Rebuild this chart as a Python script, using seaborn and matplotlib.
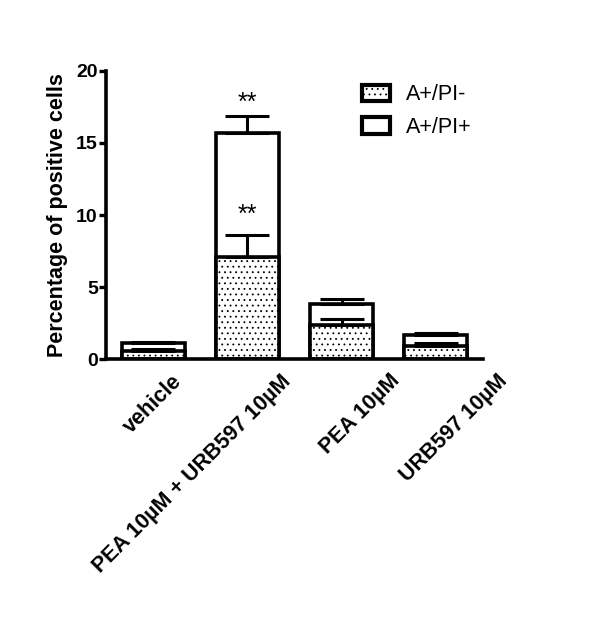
import numpy as np
import pandas as pd
import seaborn as sns
import matplotlib
matplotlib.use("Agg")
import matplotlib.pyplot as plt
import matplotlib.transforms as mtransforms
from matplotlib.patches import Patch

# ---- data ----
categories = ["vehicle", "PEA 10µM + URB597 10µM", "PEA 10µM", "URB597 10µM"]
pi_neg = [0.6, 7.1, 2.4, 0.9]          # A+/PI-  (lower segment)
pi_neg_err = [0.12, 1.5, 0.4, 0.2]
total = [1.1, 15.7, 3.8, 1.7]          # A+/PI- + A+/PI+ (top of stack)
total_err = [0.1, 1.15, 0.35, 0.15]
stars_text = ["", "**", "", ""]
series_names = ["A+/PI-", "A+/PI+"]
yticks = [0, 5, 10, 15, 20]

sns.set_style("ticks")
plt.rcParams["font.family"] = ["Liberation Sans", "DejaVu Sans"]
for k in ["text.color", "axes.labelcolor", "xtick.color", "ytick.color", "axes.edgecolor"]:
    plt.rcParams[k] = "black"
plt.rcParams["hatch.linewidth"] = 0.6
plt.rcParams["hatch.color"] = "#333333"

fig = plt.figure(figsize=(6.0, 6.26), dpi=100)
ax = fig.add_axes([0.177, 0.426, 0.628, 0.461])

df = pd.DataFrame({"cat": categories, "neg": pi_neg, "tot": total})
lw = 2.6
# total bars (A+/PI+ on top)
sns.barplot(data=df, x="cat", y="tot", ax=ax, color="white", width=0.67,
            edgecolor="black", linewidth=lw, saturation=1)
# lower bars (A+/PI-) with dotted hatch
sns.barplot(data=df, x="cat", y="neg", ax=ax, color="white", width=0.67,
            edgecolor="black", linewidth=lw, saturation=1, hatch="...")

xs = np.arange(len(categories))
ax.errorbar(xs, pi_neg, yerr=[np.zeros(len(xs)), pi_neg_err], fmt="none",
            ecolor="black", elinewidth=2.2, capsize=16, capthick=2.2, zorder=5)
ax.errorbar(xs, total, yerr=[np.zeros(len(xs)), total_err], fmt="none",
            ecolor="black", elinewidth=2.2, capsize=16, capthick=2.2, zorder=5)

for x, s in zip(xs, stars_text):
    if s:
        ax.text(x, 10.0, s, ha="center", va="center", fontsize=18)
        ax.text(x, 17.8, s, ha="center", va="center", fontsize=18)

ax.set_ylim(0, 20)
ax.set_xlim(-0.5, 3.5)
ax.set_yticks(yticks)
ax.set_yticklabels([str(t) for t in yticks], fontsize=14, fontweight="bold")
ax.set_xlabel("")
ax.set_ylabel("Percentage of positive cells", fontsize=15.5, fontweight="bold", labelpad=6)
sns.despine(ax=ax)
for sp in ["left", "bottom"]:
    ax.spines[sp].set_linewidth(2.6)
ax.tick_params(axis="y", width=2.4, length=5, pad=1)
ax.tick_params(axis="x", length=0, pad=8)

ax.set_xticks(xs)
ax.set_xticklabels(categories, rotation=45, ha="right", va="top",
                   fontsize=15.5, fontweight="bold")
label_dx = [0.33, 0.48, 0.625, 0.76]
for lab, dx in zip(ax.get_xticklabels(), label_dx):
    lab.set_transform(lab.get_transform() +
                      mtransforms.ScaledTranslation(dx, 0, fig.dpi_scale_trans))

handles = [Patch(facecolor="white", edgecolor="black", linewidth=3, hatch="..."),
           Patch(facecolor="white", edgecolor="black", linewidth=3)]
ax.legend(handles, series_names, loc="upper right", bbox_to_anchor=(1.02, 1.02),
          frameon=False, fontsize=15.5, handlelength=1.3, handleheight=0.8,
          labelspacing=0.55, handletextpad=0.7)

fig.savefig("out.png", dpi=100)
